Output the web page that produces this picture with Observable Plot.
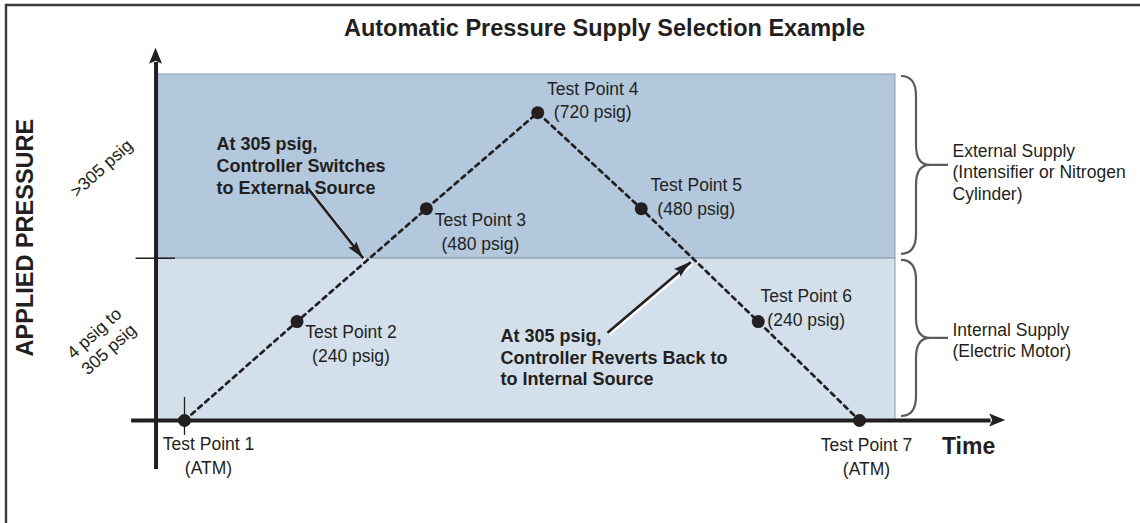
<!DOCTYPE html>
<html>
<head>
<meta charset="utf-8">
<script src="https://cdn.jsdelivr.net/npm/d3@7"></script>
<script src="https://cdn.jsdelivr.net/npm/@observablehq/plot@0.6"></script>
<style>
  body { margin: 0; background: #fff; }
  #chart svg { display: block; }
</style>
</head>
<body>
<div id="chart"></div>
<script>
// ---------- DATA ----------
const testPoints = ["Test Point 1", "Test Point 2", "Test Point 3", "Test Point 4", "Test Point 5", "Test Point 6", "Test Point 7"];
const time = [0, 1.0, 2.15, 3.14, 4.06, 5.1, 6.0];            // arbitrary time units
const pressure = [0, 240, 480, 720, 480, 240, 0];            // psig (0 = ATM)
const switchPressure = 305;                                  // psig
const topPressure = 815;                                     // upper edge of the diagram
const bandLow = [0, 305];
const bandHigh = [305, 815];
const bandLabels = ["Internal Supply\n(Electric Motor)", "External Supply\n(Intensifier or Nitrogen\nCylinder)"];
const rangeLabels = ["4 psig to\n305 psig", ">305 psig"];
const annotationTexts = [
  "At 305 psig,\nController Switches\nto External Source",
  "At 305 psig,\nController Reverts Back to\nto Internal Source"
];
const annotationTime = [0.284, 2.809];
const annotationPressure = [664, 227];
const arrowTailTime = [1.10, 3.76];
const arrowTailPressure = [530, 213];
const arrowTipTime = [1.59, 4.50];
const arrowTipPressure = [305, 301];

const title = "Automatic Pressure Supply Selection Example";
const yTitle = "APPLIED PRESSURE";
const xTitle = "Time";

// ---------- SCALES (the diagram is not drawn to scale: piecewise pressure axis) ----------
const pressureStops = [0, 240, 305, 480, 720, 815];
const levelStops    = [0, 233, 382, 499, 725, 815];
const psigLevel = d3.scaleLinear(pressureStops, levelStops);   // used as Plot scale transform

const tBandLeft = -0.25, tBandRight = 6.32;
const tAxisY = -0.253, tAxisStart = -0.47, tAxisEnd = 7.17, tAxisTip = 7.30;
const pAxisBottom = -119, pAxisTop = 845, pAxisTip = 880;

const ink = "#231f20";
const points = testPoints.map((name, i) => ({
  name, time: time[i], pressure: pressure[i],
  label: `${name}\n${pressure[i] ? `(${pressure[i]} psig)` : "(ATM)"}`
}));
const bands = bandLow.map((lo, i) => ({
  lo, hi: bandHigh[i], label: bandLabels[i], range: rangeLabels[i],
  mid: psigLevel.invert((psigLevel(lo) + psigLevel(bandHigh[i])) / 2)
}));
const annotations = annotationTexts.map((text, i) => ({
  text, t: annotationTime[i], p: annotationPressure[i],
  x1: arrowTailTime[i], y1: arrowTailPressure[i], x2: arrowTipTime[i], y2: arrowTipPressure[i]
}));
const axisArrows = [
  {x1: tAxisY, y1: pAxisTop, x2: tAxisY, y2: pAxisTip},
  {x1: tAxisEnd, y1: 0, x2: tAxisTip, y2: 0}
];

// ---------- custom render helpers (use Plot's scales) ----------
const Y = (scales, p) => scales.y(psigLevel(p));
function arrowHeads(list, {len, half, notch, fill}) {
  return (index, scales) => {
    const g = d3.create("svg:g").attr("fill", fill);
    for (const a of list) {
      const X1 = scales.x(a.x1), Y1 = Y(scales, a.y1), X2 = scales.x(a.x2), Y2 = Y(scales, a.y2);
      const ang = Math.atan2(Y2 - Y1, X2 - X1) * 180 / Math.PI;
      g.append("path")
        .attr("d", `M0,0L${-len},${-half}L${-len + notch},0L${-len},${half}Z`)
        .attr("transform", `translate(${X2},${Y2}) rotate(${ang})`);
    }
    return g.node();
  };
}
function braces(index, scales) {
  const g = d3.create("svg:g").attr("fill", "none").attr("stroke", "#5a5b5d").attr("stroke-width", 2.2);
  const xr = scales.x(tBandRight);
  for (const b of bands) {
    const yt = Y(scales, b.hi) + 2, yb = Y(scales, b.lo) - 4, ym = (yt + yb) / 2;
    const x0 = xr + 6, x1 = xr + 21, x2 = xr + 35, x3 = xr + 53, r = Math.min(20, (yb - yt) / 4);
    g.append("path").attr("d",
      `M${x0},${yt}Q${x1},${yt} ${x1},${yt + r}V${ym - r}Q${x1},${ym} ${x2},${ym}` +
      `Q${x1},${ym} ${x1},${ym + r}V${yb - r}Q${x1},${yb} ${x0},${yb}M${x2},${ym}H${x3}`);
  }
  return g.node();
}
function border(index, scales, values, dims) {
  return d3.create("svg:path")
    .attr("d", `M6,${dims.height}V5H${dims.width}`)
    .attr("fill", "none").attr("stroke", "#3a3a3a").attr("stroke-width", 2.4).node();
}

const labelOffsets = [[24, 34], [54, 21], [54, 22], [55, -14], [55, -13], [48, -15], [7, 35]];

const chart = Plot.plot({
  width: 1140,
  height: 523,
  margin: 0,
  style: {fontFamily: "'Liberation Sans', Arial, Helvetica, sans-serif", color: ink, background: "#fff"},
  x: {domain: [0, 6], range: [184, 859], axis: null},
  y: {transform: psigLevel, domain: [0, topPressure], range: [420, 74], axis: null},
  marks: [
    border,
    Plot.rect([bands[0]], {x1: tBandLeft, x2: tBandRight, y1: "lo", y2: "hi", fill: "#d3dfea", stroke: "#8e9aa7", strokeWidth: 1}),
    Plot.rect([bands[1]], {x1: tBandLeft, x2: tBandRight, y1: "lo", y2: "hi", fill: "#b3c8dd", stroke: "#8e9aa7", strokeWidth: 1}),
    Plot.ruleY([switchPressure], {x1: -0.43, x2: -0.08, stroke: ink, strokeWidth: 1.5}),
    Plot.ruleX([tAxisY], {y1: pAxisBottom, y2: pAxisTop, stroke: ink, strokeWidth: 4}),
    Plot.ruleY([0], {x1: tAxisStart, x2: tAxisEnd, stroke: ink, strokeWidth: 4}),
    arrowHeads(axisArrows, {len: 16, half: 6.5, notch: 3, fill: ink}),
    Plot.ruleX([time[0]], {y1: -36, y2: 56, stroke: ink, strokeWidth: 1.3}),
    Plot.line(points, {x: "time", y: "pressure", stroke: ink, strokeWidth: 2.7, strokeDasharray: "4.5,4.7"}),
    Plot.dot(points, {x: "time", y: "pressure", r: 6.5, fill: ink}),
    ...points.map((p, i) => Plot.text([p], {
      x: "time", y: "pressure", text: "label", dx: labelOffsets[i][0], dy: labelOffsets[i][1],
      textAnchor: "middle", lineAnchor: "middle", lineHeight: 1.33, fontSize: 17.5, fill: ink
    })),
    Plot.link(annotations, {x1: "x1", y1: "y1", x2: "x2", y2: "y2", stroke: "#fff", strokeWidth: 3, dx: 1.6, dy: 1.6}),
    Plot.link(annotations, {x1: "x1", y1: "y1", x2: "x2", y2: "y2", stroke: ink, strokeWidth: 2.6}),
    arrowHeads(annotations, {len: 17, half: 5, notch: 2.5, fill: ink}),
    Plot.text(annotations, {x: "t", y: "p", text: "text", textAnchor: "start", lineAnchor: "top",
      fontWeight: "bold", fontSize: 18, lineHeight: 1.2, fill: ink}),
    braces,
    ...bands.map((b, i) => Plot.text([b], {x: tBandRight, y: "mid", text: "label", dx: 57, dy: i ? 5 : 0,
      textAnchor: "start", lineAnchor: "middle", lineHeight: 1.24, fontSize: 17.5, fill: ink})),
    Plot.text(bands, {x: -0.745, y: "mid", text: "range", rotate: -42, dy: 1,
      textAnchor: "middle", lineAnchor: "middle", lineHeight: 1.24, fontSize: 17.5, fill: ink}),
    Plot.text([yTitle], {x: -1.41, y: 378, text: d => d, rotate: -90, fontWeight: "bold", fontSize: 23.5, fill: ink}),
    Plot.text([xTitle], {x: 6.97, y: 0, text: d => d, dy: 26.6, fontWeight: "bold", fontSize: 23, fill: ink}),
    Plot.text([title], {frameAnchor: "top", text: d => d, dx: 34, dy: 18.7, fontWeight: "bold", fontSize: 23.5, fill: ink})
  ]
});
document.getElementById("chart").append(chart);
</script>
</body>
</html>
